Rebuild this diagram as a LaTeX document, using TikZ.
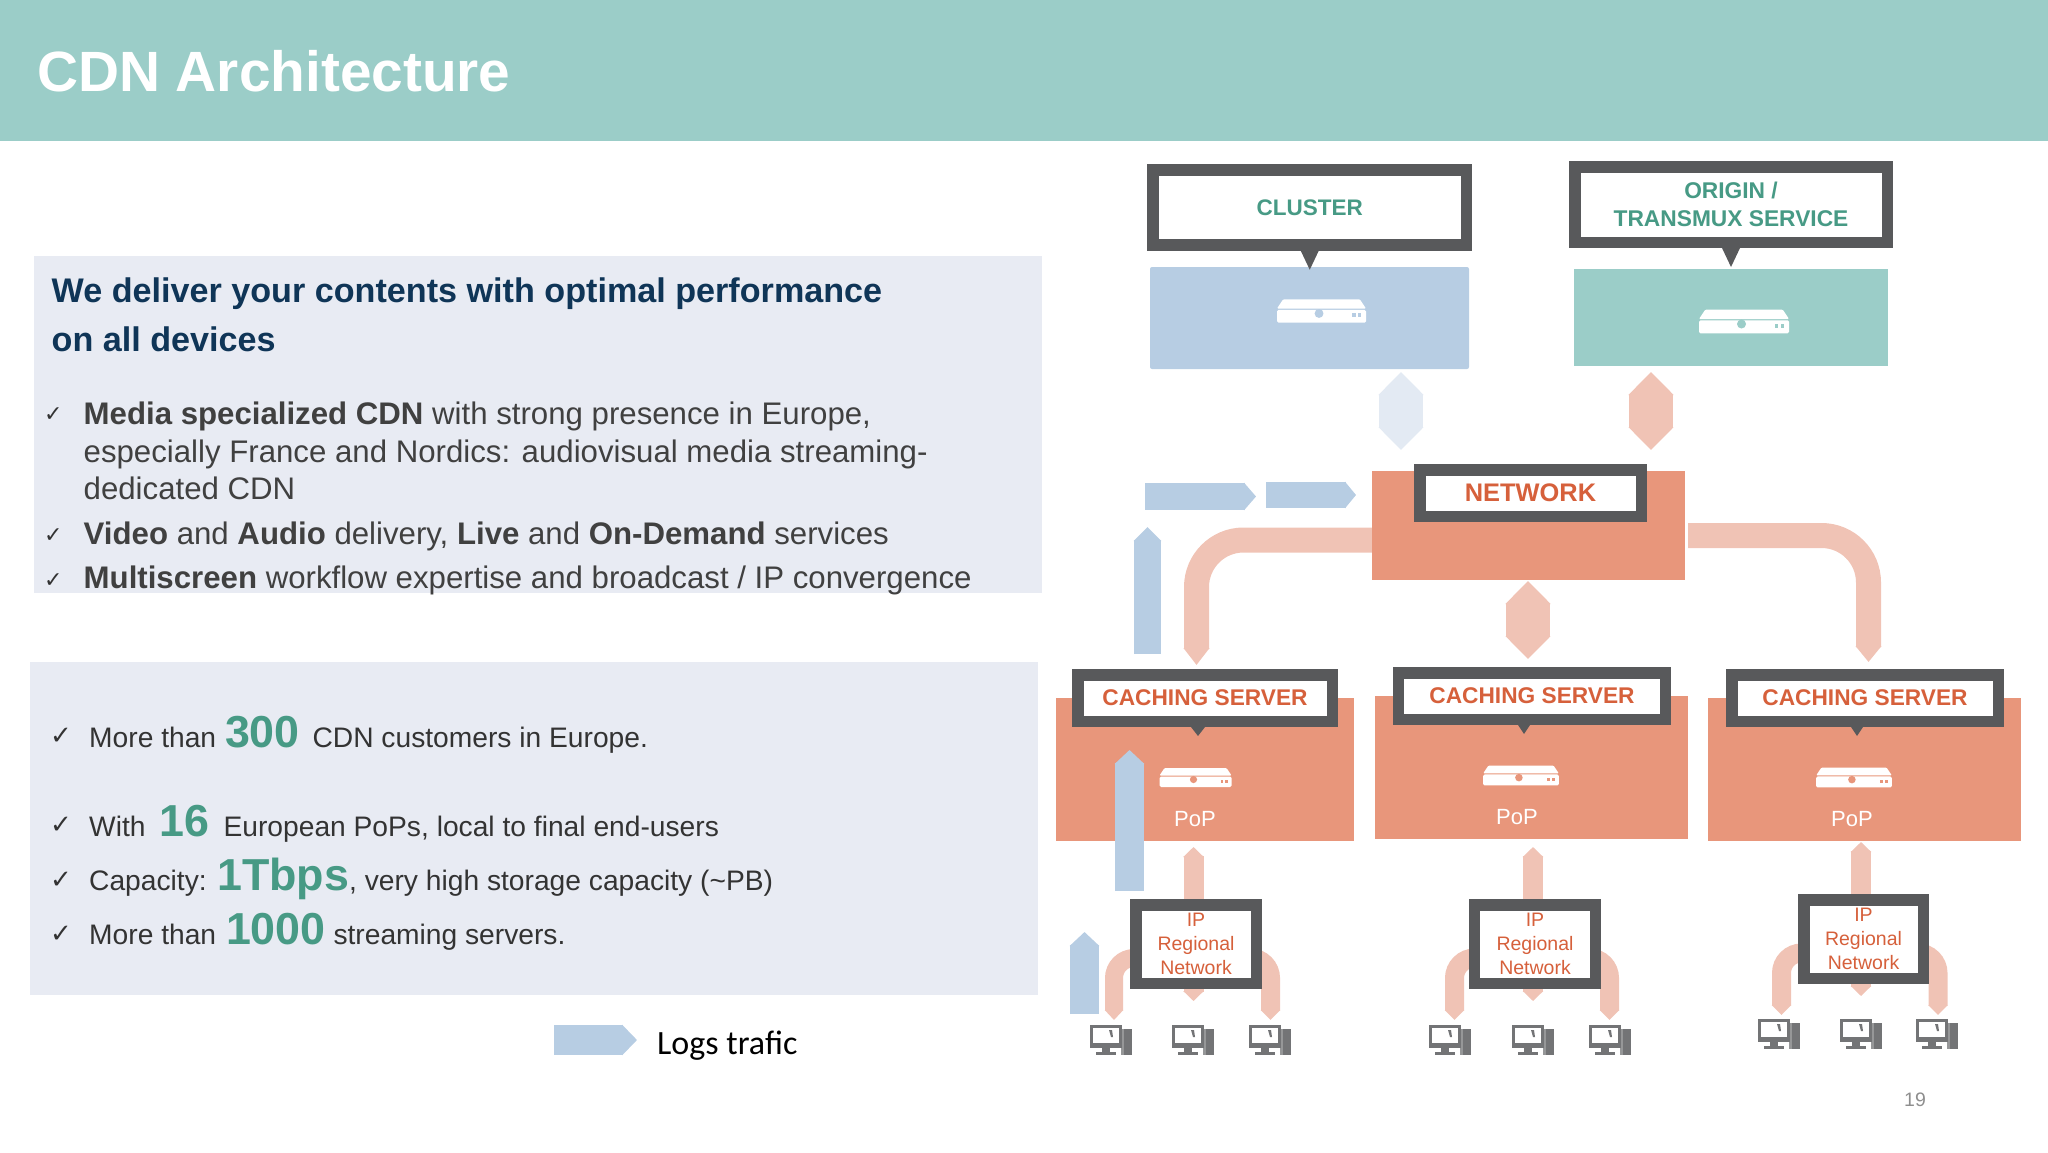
\documentclass[tikz,border=0pt]{standalone}
\usepackage{xcolor}
\usepackage{fontspec}
\setmainfont{Liberation Sans}
\newfontfamily\legendfont{Carlito}
\newfontfamily\checkfont{DejaVu Sans}
\usetikzlibrary{arrows.meta, backgrounds}

\definecolor{headteal}{HTML}{9BCDC8}
\definecolor{panelgray}{HTML}{E8EBF3}
\definecolor{navytext}{HTML}{0F3557}
\definecolor{bodygray}{HTML}{404040}
\definecolor{darktext}{HTML}{333333}
\definecolor{numgreen}{HTML}{479A85}
\definecolor{labelorange}{HTML}{D6603B}
\definecolor{calloutgray}{HTML}{58595B}
\definecolor{clusterblue}{HTML}{B7CDE3}
\definecolor{popsalmon}{HTML}{E8967B}
\definecolor{flowpink}{HTML}{F0C3B5}
\definecolor{flowpale}{HTML}{E3EAF3}
\definecolor{pagegray}{HTML}{8E8E8E}
\definecolor{pcgray}{HTML}{737476}

\newcommand{\bignum}[1]{{\fontsize{44.8}{44.8}\selectfont\bfseries\color{numgreen}#1}}

\tikzset{
    box/.style={rectangle, inner sep=0pt, outer sep=0pt},
    callout/.style={rectangle, draw=calloutgray, line width=11.5pt, fill=white, inner sep=0pt, align=center, font=\fontsize{22.7}{28}\selectfont\bfseries, text=labelorange},
    regional/.style={callout, minimum height=78.5pt, font=\fontsize{19.5}{24}\selectfont},
    pin/.style={fill=calloutgray},
    flow/.style 2 args={line width=#1, -{Triangle[length=#2, width=#1]}},
    flowboth/.style 2 args={line width=#1, {Triangle[length=#2, width=#1]}-{Triangle[length=#2, width=#1]}},
    headline/.style={anchor=base west, inner sep=0pt, font=\fontsize{34.15}{40}\selectfont\bfseries, text=navytext},
    bodyline/.style={anchor=base west, inner sep=0pt, font=\fontsize{31.2}{38}\selectfont, text=bodygray},
    factline/.style={anchor=base west, inner sep=0pt, font=\fontsize{28.2}{34}\selectfont, text=darktext},
    tick/.style={anchor=base west, inner sep=0pt, font=\fontsize{#1}{#1}\checkfont, text=darktext},
    poplabel/.style={anchor=base, inner sep=0pt, font=\fontsize{22}{26}\selectfont, text=white},
    pics/serverbox/.style={code={
        \fill[white, rounded corners=1pt] (-31,-9.5) -- (31,-9.5) -- (36,-2) -- (-36,-2) -- cycle;
        \fill[white, rounded corners=1.5pt] (-36,-1) rectangle (36,9.5);
        \fill[#1] (-2,2) circle (3.6);
        \fill[#1] (25,2) rectangle (27.5,5);
        \fill[#1] (29.5,2) rectangle (32,5);
    }},
    pics/desktop/.style={code={
        \fill[pcgray!75] (31,4) rectangle (34,30);
        \fill[pcgray] (34,4) rectangle (42,30);
        \fill[pcgray] (0,0) rectangle (32,23);
        \fill[white] (3,3) rectangle (29,18);
        \fill[pcgray] (19,5) -- (22,5) -- (23,12) -- (21,12) -- cycle;
        \fill[pcgray] (12,23) rectangle (20,27);
        \fill[pcgray] (6,27) rectangle (26,30);
    }},
}

\begin{document}
\begin{tikzpicture}[x=1pt, y=-1pt]
        \useasboundingbox (0,0) rectangle (2048,1152);

        % Title band
        \node[box, fill=headteal, minimum width=2048pt, minimum height=141pt] (headbar) at (1024,70.5) {};
        \node[anchor=base west, inner sep=0pt, font=\fontsize{56.8}{60}\selectfont\bfseries, text=white] (title) at (37,91.5) {CDN Architecture};

        % Left panels
        \node[box, fill=panelgray, minimum width=1008pt, minimum height=337pt] (offer) at (538,424.5) {};
        \node[box, fill=panelgray, minimum width=1008pt, minimum height=333pt] (facts) at (534,828.5) {};

        % Offer text
        \node[headline] (head1) at (51.5,302) {We deliver your contents with optimal performance};
        \node[headline] (head2) at (51.5,351.5) {on all devices};
        \node[tick=22] (tick1) at (44,421) {✓};
        \node[bodyline] (offer1) at (83.5,424) {\textbf{Media specialized CDN} with strong presence in Europe,};
        \node[bodyline] (offer2) at (83.5,462) {especially France and Nordics: audiovisual media streaming-};
        \node[bodyline] (offer3) at (83.5,499.5) {dedicated CDN};
        \node[tick=22] (tick2) at (44,542) {✓};
        \node[bodyline] (offer4) at (83.5,544) {\textbf{Video} and \textbf{Audio} delivery, \textbf{Live} and \textbf{On-Demand} services};
        \node[tick=22] (tick3) at (44,587) {✓};
        \node[bodyline] (offer5) at (83.5,588) {\textbf{Multiscreen} workflow expertise and broadcast / IP convergence};

        % Key figures
        \node[tick=26] (tick4) at (50,744) {✓};
        \node[factline] (fact1) at (89,747) {More than \hspace{1pt}\bignum{300}\hspace{5pt} CDN customers in Europe.};
        \node[tick=26] (tick5) at (50,833) {✓};
        \node[factline] (fact2) at (89,836) {With \hspace{6.5pt}\bignum{16}\hspace{6pt} European PoPs, local to final end-users};
        \node[tick=26] (tick6) at (50,888) {✓};
        \node[factline] (fact3) at (89,890) {Capacity: \bignum{1Tbps}, very high storage capacity (\textasciitilde PB)};
        \node[tick=26] (tick7) at (50,942) {✓};
        \node[factline] (fact4) at (89,944) {More than \hspace{2pt}\bignum{1000} streaming servers.};

        % Legend
        \coordinate (legenda) at (554,1040);
        \coordinate (legendb) at (637,1040);
        \draw[clusterblue, flow={30pt}{15pt}] (legenda) -- (legendb);
        \node[anchor=base west, inner sep=0pt, font=\fontsize{34}{38}\legendfont] (legend) at (657,1054) {Logs trafic};

        % Top boxes
        \node[box, fill=clusterblue, rounded corners=2pt, minimum width=319pt, minimum height=102pt] (clusterbox) at (1309.5,318) {};
        \node[box, fill=headteal, minimum width=314pt, minimum height=97pt] (originbox) at (1731,317.5) {};
        \pic[scale=1.236] (srvc) at (1321.5,311) {serverbox=clusterblue};
        \pic[scale=1.25] (srvo) at (1744,321.5) {serverbox=headteal};
        \node[callout, minimum width=313.5pt, minimum height=75pt, text=numgreen, font=\fontsize{22.5}{28}\selectfont\bfseries] (cluster) at (1309.75,207.5) {CLUSTER};
        \node[callout, minimum width=312.5pt, minimum height=75.5pt, text=numgreen, font=\fontsize{22.75}{28.5}\selectfont\bfseries] (origin) at (1731,204.5) {ORIGIN /\\TRANSMUX SERVICE};
        \fill[pin] (cluster.south) ++(-9,0) -- ++(18,0) -- ++(-9,19) -- cycle; % CLUSTER pointer
        \fill[pin] (origin.south) ++(-9,0) -- ++(18,0) -- ++(-9,19) -- cycle;  % ORIGIN pointer

        % Network
        \node[box, fill=popsalmon, minimum width=313pt, minimum height=109pt] (netbox) at (1528.5,525.5) {};
        \node[callout, minimum width=221.5pt, minimum height=46.5pt, font=\fontsize{25.4}{28}\selectfont\bfseries] (network) at (1530.5,493) {NETWORK};

        % PoP boxes with their caching servers
        \node[box, fill=popsalmon, minimum width=298pt, minimum height=143pt] (popa) at (1205,769.5) {};
        \node[box, fill=popsalmon, minimum width=313pt, minimum height=143pt] (popb) at (1531.5,767.5) {};
        \node[box, fill=popsalmon, minimum width=313pt, minimum height=143pt] (popc) at (1864.5,769.5) {};
        \pic (srva) at (1195.5,777.5) {serverbox=popsalmon};
        \pic[scale=1.05] (srvb) at (1521,775.5) {serverbox=popsalmon};
        \pic[scale=1.05] (srvd) at (1854,777.5) {serverbox=popsalmon};
        \node[poplabel] (labela) at (1195,826) {PoP};
        \node[poplabel] (labelb) at (1517,824) {PoP};
        \node[poplabel] (labelc) at (1852,826) {PoP};
        \node[callout, minimum width=254.5pt, minimum height=46.5pt] (cachea) at (1205,698) {CACHING SERVER};
        \node[callout, minimum width=267pt, minimum height=46.5pt] (cacheb) at (1532,696) {CACHING SERVER};
        \node[callout, minimum width=266.5pt, minimum height=46.5pt] (cachec) at (1865,698) {CACHING SERVER};
        \fill[pin] (cachea.south) ++(-14,0) -- ++(14,0) -- ++(-7,9) -- cycle; % pointer into PoP 1
        \fill[pin] (cacheb.south) ++(-14,0) -- ++(12,0) -- ++(-6,9) -- cycle; % pointer into PoP 2
        \fill[pin] (cachec.south) ++(-14,0) -- ++(12,0) -- ++(-6,9) -- cycle; % pointer into PoP 3

        % IP regional networks
        \node[regional, minimum width=120.5pt] (ipa) at (1196,944) {IP\\Regional\\Network};
        \node[regional, minimum width=121pt] (ipb) at (1535,944) {IP\\Regional\\Network};
        \node[regional, minimum width=119.5pt] (ipc) at (1863.5,939) {IP\\Regional\\Network};

        % End users
        \pic (pc1) at (1090,1025) {desktop};
        \pic (pc2) at (1172,1025) {desktop};
        \pic (pc3) at (1249,1025) {desktop};
        \pic (pc4) at (1429,1025) {desktop};
        \pic (pc5) at (1512,1025) {desktop};
        \pic (pc6) at (1589,1025) {desktop};
        \pic (pc7) at (1758,1019) {desktop};
        \pic (pc8) at (1840,1019) {desktop};
        \pic (pc9) at (1916,1019) {desktop};

        % Logs flows (blue)
        \coordinate (logsa) at (1145,496.5);
        \coordinate (logsb) at (1256,496.5);
        \coordinate (logsc) at (1266,495);
        \coordinate (logsd) at (1356,495);
        \coordinate (logse) at (1147.5,654);
        \coordinate (logsf) at (1147.5,527);
        \coordinate (logsg) at (1129.5,891);
        \coordinate (logsh) at (1129.5,750);
        \coordinate (logsi) at (1084.5,1014);
        \coordinate (logsj) at (1084.5,932);
        \draw[clusterblue, flow={27pt}{12pt}] (logsa) -- (logsb);
        \draw[clusterblue, flow={26pt}{11pt}] (logsc) -- (logsd);
        \draw[clusterblue, flow={27pt}{14pt}] (logse) -- (logsf);
        \draw[clusterblue, flow={29pt}{14pt}] (logsg) -- (logsh);
        \draw[clusterblue, flow={29pt}{14pt}] (logsi) -- (logsj);

        % Page number
        \node[anchor=base, inner sep=0pt, font=\fontsize{19.5}{22}\selectfont, text=pagegray] (pagenum) at (1915,1106) {19};

        % Pink flows, behind the boxes
        \begin{pgfonlayer}{background}
            \coordinate (hexa) at (1401,372);
            \coordinate (hexb) at (1401,450);
            \coordinate (hexc) at (1651,372);
            \coordinate (hexd) at (1651,450);
            \coordinate (hexe) at (1528,581);
            \coordinate (hexf) at (1528,659);
            \coordinate (curvea) at (1380,540);
            \coordinate (curveb) at (1196.5,665);
            \coordinate (curvec) at (1688,535.5);
            \coordinate (curved) at (1868.5,662);
            \draw[flowpale, flowboth={44pt}{23pt}] (hexa) -- (hexb);
            \draw[flowpink, flowboth={44pt}{23pt}] (hexc) -- (hexd);
            \draw[flowpink, flowboth={44pt}{23pt}] (hexe) -- (hexf);
            \draw[flowpink, flow={25pt}{17pt}, rounded corners=47pt] (curvea) -| (curveb);
            \draw[flowpink, flow={25pt}{16pt}, rounded corners=47pt] (curvec) -| (curved);

            % PoP down to the users, column 1
            \coordinate (linka) at (1193.5,847);
            \coordinate (linkb) at (1193.5,1001);
            \coordinate (linkc) at (1114,1020);
            \coordinate (linkd) at (1270.5,1020);
            \draw[flowpink, flowboth={20pt}{10pt}] (linka) -- (linkb);
            \draw[flowpink, flow={18pt}{10pt}, rounded corners=20pt] (ipa.center) ++(0,14) -| (linkc);
            \draw[flowpink, flow={19pt}{10pt}, rounded corners=20pt] (ipa.center) ++(0,14) -| (linkd);

            % Column 2
            \coordinate (linke) at (1533,847);
            \coordinate (linkf) at (1533,1001);
            \coordinate (linkg) at (1454.5,1020);
            \coordinate (linkh) at (1609.5,1020);
            \draw[flowpink, flowboth={20pt}{10pt}] (linke) -- (linkf);
            \draw[flowpink, flow={19pt}{10pt}, rounded corners=20pt] (ipb.center) ++(0,14) -| (linkg);
            \draw[flowpink, flow={19pt}{10pt}, rounded corners=20pt] (ipb.center) ++(0,14) -| (linkh);

            % Column 3
            \coordinate (linki) at (1861,842);
            \coordinate (linkj) at (1861,996);
            \coordinate (linkk) at (1781.5,1015);
            \coordinate (linkl) at (1938,1015);
            \draw[flowpink, flowboth={20pt}{10pt}] (linki) -- (linkj);
            \draw[flowpink, flow={19pt}{10pt}, rounded corners=20pt] (ipc.center) ++(0,14) -| (linkk);
            \draw[flowpink, flow={19pt}{10pt}, rounded corners=20pt] (ipc.center) ++(0,14) -| (linkl);
        \end{pgfonlayer}
\end{tikzpicture}
\end{document}
